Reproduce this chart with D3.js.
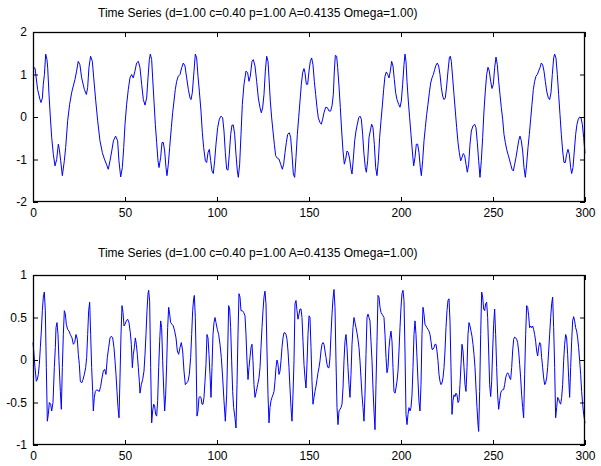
<!DOCTYPE html>
<html><head><meta charset="utf-8">
<script src="https://cdn.jsdelivr.net/npm/d3@7"></script>
<style>
body{margin:0;background:#fff;}
svg{display:block;font-family:"Liberation Sans",Arial,sans-serif;}
</style></head>
<body><svg id="c" width="601" height="466"></svg>
<script>
const titleText = "Time Series (d=1.00 c=0.40 p=1.00 A=0.4135 Omega=1.00)";
const xTicks = [0, 50, 100, 150, 200, 250, 300];
const topYTicks = [-2, -1, 0, 1, 2];
const botYTicks = [-1, -0.5, 0, 0.5, 1];

const topSeries = [
[0,1.17],[1.1,1.15],[2.5,0.65],[3.8,0.41],[4.35,0.34],[5.1,0.45],[5.6,0.77],[6.2,1.0],[6.9,1.48],[7.6,1.35],[8.0,1.15],[8.7,0.53],[9.4,0.02],[10.15,-0.48],[11.05,-0.88],[11.96,-1.15],[12.86,-1.0],[13.77,-0.64],[14.31,-0.76],[15.04,-1.03],[15.94,-1.38],[17.03,-1.03],[17.75,-0.72],[18.84,-0.09],[19.93,0.30],[21.0,0.57],[21.9,0.73],[22.8,0.88],[23.7,1.08],[24.6,1.31],[25.5,1.23],[26.45,0.92],[27.9,0.65],[29.0,0.53],[29.7,0.69],[30.4,1.16],[31.3,1.43],[32.25,1.31],[33.0,0.92],[34.1,0.38],[35.15,-0.09],[36.4,-0.56],[37.7,-0.84],[38.8,-0.99],[39.9,-1.11],[40.9,-1.23],[41.85,-1.03],[42.8,-0.80],[43.7,-0.56],[44.9,-0.45],[46.0,-0.56],[46.7,-1.03],[47.65,-1.41],[48.55,-1.19],[49.3,-0.72],[50.0,-0.17],[50.9,0.30],[51.8,0.65],[52.7,0.92],[53.6,1.0],[54.5,0.92],[55.4,1.08],[56.3,1.27],[57.25,1.31],
[58.15,1.16],[59.06,0.77],[59.96,0.41],[60.87,0.28],[61.77,0.45],[62.5,0.92],[63.22,1.35],[63.77,1.48],[64.49,1.35],[65.03,0.92],[65.76,0.375],[66.48,-0.17],[67.21,-0.6],[67.93,-1.03],[68.48,-1.19],[69.38,-0.95],[70.11,-0.6],[70.83,-0.6],[71.56,-0.8],[72.28,-1.19],[72.82,-1.38],[73.55,-1.11],[74.27,-0.72],[75.18,-0.25],[75.9,0.1],[76.63,0.375],[77.35,0.65],[78.08,0.84],[78.98,0.96],[79.89,1.0],[80.8,1.16],[81.7,1.27],[82.61,1.2],[83.51,0.92],[84.42,0.65],[85.32,0.45],[85.87,0.41],[86.59,0.57],[87.5,1.08],[88.22,1.48],[88.95,1.39],[89.67,0.96],[90.4,0.61],[91.3,0.14],[92.03,-0.37],[92.75,-0.72],[93.66,-1.03],[94.38,-1.07],[95.11,-0.84],[95.83,-0.76],[96.56,-1.03],[97.28,-1.27],[98.01,-1.33],[98.73,-1.03],[99.45,-0.64],[100.36,-0.25],[101.27,-0.05],[102.17,0.02],[103.08,-0.02],[103.8,-0.33],[104.53,-0.84],[105.25,-1.23],[105.98,-1.25],[106.7,-0.875],[107.43,-0.41],[108.15,-0.19],[108.87,-0.19],[109.6,-0.41],[110.32,-0.875],[111.05,-1.27],[111.59,-1.42],[112.32,-1.11],[113.04,-0.41],[113.77,0.3],[114.67,0.77],[115.76,1.08],[116.66,1.04],[117.39,0.84],[118.11,0.96],[119.02,1.31],[119.74,1.35],
[120.65,1.2],[121.56,0.84],[122.46,0.45],[123.37,0.22],[124.09,0.1],[124.82,0.22],[125.54,0.53],[126.27,1.08],[126.99,1.43],[127.72,1.31],[128.26,0.92],[128.98,0.375],[129.71,-0.02],[130.43,-0.33],[131.16,-0.64],[131.88,-0.91],[132.79,-0.97],[133.69,-0.99],[134.6,-1.11],[135.5,-1.23],[136.23,-1.11],[136.95,-0.84],[137.68,-0.6],[138.4,-0.41],[139.31,-0.37],[140.03,-0.48],[140.76,-0.875],[141.48,-1.34],[142.21,-1.42],[142.93,-0.95],[143.66,-0.41],[144.38,-0.02],[145.11,0.375],[145.83,0.77],[146.56,1.04],[147.28,1.14],[147.82,1.04],[148.55,0.77],[149.27,0.77],[150.0,1.08],[150.72,1.31],[151.45,1.39],[152.17,1.23],[152.9,0.84],[153.62,0.53],[154.35,0.22],[155.07,-0.02],[155.98,-0.13],[156.7,-0.17],[157.43,-0.05],[158.15,0.1],[159.06,0.23],[159.96,0.22],[160.87,0.14],[161.77,0.14],[162.5,0.26],[163.22,0.53],[163.77,1.08],[164.31,1.45],[165.03,1.43],[165.58,1.16],[166.3,0.73],[167.03,0.22],[167.75,-0.33],[168.48,-0.8],[169.2,-1.11],[169.93,-0.99],[170.65,-0.8],[171.38,-0.84],[172.1,-0.99],[172.82,-1.23],[173.37,-1.34],[174.09,-0.99],[174.82,-0.56],[175.54,-0.33],[176.27,-0.17],[176.99,-0.02],[177.72,0.02],[178.44,-0.05],[179.16,-0.41],[179.89,-0.875],[180.61,-1.19],[181.16,-1.3],[181.88,-1.03],[182.61,-0.48],
[184.06,-0.17],[184.78,-0.25],[185.5,-0.64],[186.23,-1.19],[186.95,-1.38],[187.68,-1.03],[188.4,-0.48],[189.13,-0.09],[189.85,0.26],[190.58,0.65],[191.3,0.96],[192.03,1.06],[192.75,1.0],[193.48,0.92],[194.2,1.08],[194.93,1.31],[195.65,1.2],[196.37,0.88],[197.1,0.57],[197.82,0.41],[198.73,0.3],[199.45,0.23],[200.18,0.375],[200.9,0.77],[201.63,1.23],[202.17,1.48],[202.72,1.31],[203.26,0.84],[203.98,0.375],[204.71,-0.02],[205.43,-0.41],[206.16,-0.8],[206.88,-1.15],[207.61,-0.95],[208.33,-0.64],[209.06,-0.64],[209.78,-0.84],[210.5,-1.19],[211.05,-1.38],[211.77,-1.03],[212.5,-0.56],[213.22,-0.25],[213.95,0.06],[214.67,0.3],[215.4,0.57],[216.12,0.8],[216.85,0.92],[217.57,1.0],[218.3,1.12],[219.02,1.22],[219.74,1.27],[220.47,1.2],[221.19,1.0],[221.92,0.69],[222.64,0.49],[223.37,0.41],[224.09,0.45],[224.82,0.73],[225.54,1.08],[226.27,1.39],[226.81,1.43],[227.35,1.31],[228.08,0.92],[228.8,0.53],[229.53,0.14],[230.25,-0.25],[230.98,-0.6],[231.7,-0.84],[232.43,-1.03],[233.15,-0.95],[233.87,-0.86],[234.6,-0.91],[235.32,-1.11],[236.05,-1.3],[236.77,-1.11],[237.5,-0.64],[238.22,-0.33],[239.13,-0.21],[240.03,-0.17],[240.76,-0.25],[241.48,-0.6],[242.21,-1.03],
[242.93,-1.42],[243.65,-1.03],[244.38,-0.48],[245.1,0.14],[245.83,0.61],[246.55,1.0],[247.28,1.17],[248.0,1.08],[248.73,0.84],[249.45,0.67],[250.18,0.77],[250.9,1.16],[251.63,1.41],[252.35,1.23],[253.08,0.84],[253.8,0.53],[254.52,0.22],[255.25,-0.05],[255.97,-0.41],[256.7,-0.6],[257.42,-0.76],[258.15,-0.875],[258.87,-0.99],[259.6,-1.11],[260.32,-1.23],[261.05,-1.27],[261.77,-1.11],[262.5,-0.95],[263.22,-0.76],[263.94,-0.56],[264.67,-0.45],[265.39,-0.56],[266.12,-0.8],[266.84,-1.19],[267.57,-1.42],[268.29,-1.11],[269.02,-0.72],[269.74,-0.41],[270.47,-0.05],[271.19,0.3],[271.92,0.65],[272.64,0.84],[273.36,0.96],[274.09,1.0],[274.81,1.08],[275.54,1.16],[276.26,1.27],[276.99,1.23],[277.71,1.08],[278.44,0.84],[279.16,0.61],[280.07,0.45],[280.79,0.41],[281.52,0.57],[282.24,1.0],[282.97,1.39],[283.51,1.48],[284.23,1.39],[284.96,1.0],[285.68,0.53],[286.41,0.06],[287.13,-0.41],[287.86,-0.8],[288.58,-1.07],[289.3,-1.07],[290.03,-0.875],[290.75,-0.76],[291.48,-0.875],[292.2,-1.19],[292.75,-1.33],[293.47,-1.19],[294.2,-0.8],[294.92,-0.41],[295.65,-0.17],[296.37,-0.05],[297.1,0.0],[297.82,-0.02],[298.54,-0.17],[299.27,-0.48],[300,-0.85]
];

const bottomSeries = [
[0,0.205],[0.54,0.067],[1.09,-0.09],[1.81,-0.25],[2.35,-0.23],[2.9,-0.17],[3.44,-0.05],[3.99,0.146],[4.53,0.34],[5.07,0.58],[5.62,0.74],[6.16,0.8],[6.7,0.58],[7.25,-0.09],[7.79,-0.72],[8.33,-0.64],[8.88,-0.5],[9.6,-0.52],[10.15,-0.6],[10.87,-0.5],[11.59,-0.09],[12.14,0.146],[12.5,0.38],[13.04,0.44],[13.59,0.3],[14.13,-0.01],[14.86,-0.37],[15.4,-0.58],[15.94,-0.09],[16.49,0.3],[17.03,0.58],[17.57,0.54],[18.12,0.42],[18.84,0.36],[19.57,0.34],[20.29,0.3],[21.2,0.26],[21.92,0.185],[22.65,0.205],[23.37,0.3],[24.09,0.244],[24.64,0.067],[25.18,-0.05],[25.72,-0.25],[26.45,-0.27],[27.17,-0.23],[27.9,-0.17],[28.62,-0.09],[29.17,0.03],[29.71,0.3],[30.25,0.58],[30.8,0.68],[31.34,0.3],[31.88,-0.09],[32.43,-0.37],[32.79,-0.6],[33.33,-0.44],[33.88,-0.37],[34.6,-0.35],[35.33,-0.36],[36.05,-0.37],[36.78,-0.31],[37.5,-0.21],[38.22,-0.13],[38.95,-0.11],[39.67,-0.17],[40.4,0.03],[41.12,0.146],[41.85,0.26],[42.57,0.28],[43.3,0.26],[44.02,0.146],[44.57,-0.01],[45.11,-0.17],[45.65,-0.37],[46.2,-0.56],[46.74,-0.68],[47.28,-0.21],[47.83,0.3],[48.37,0.64],[48.91,0.56],[49.46,0.4],[50.0,0.42],[50.72,0.46],[51.45,0.48],[52.17,0.44],[52.9,0.32],[53.44,0.185],[53.99,-0.09],[54.53,0.067],[55.07,0.146],[55.62,0.26],[56.16,0.185],[56.7,0.067],[57.25,-0.09],[57.79,-0.25],
[58.15,-0.39],[58.87,-0.29],[59.6,-0.23],[60.32,-0.13],[60.87,0.067],[61.41,0.3],[61.95,0.58],[62.5,0.78],[62.86,0.82],[63.4,0.69],[63.95,-0.09],[64.49,-0.74],[65.03,-0.6],[65.58,-0.52],[66.12,-0.54],[66.66,-0.64],[67.21,-0.66],[67.75,-0.48],[68.3,-0.09],[68.84,0.22],[69.38,0.46],[69.93,0.38],[70.47,-0.01],[71.01,-0.33],[71.56,-0.6],[72.1,-0.41],[72.64,-0.05],[73.19,0.38],[73.73,0.62],[74.27,0.54],[74.82,0.44],[75.54,0.42],[76.27,0.4],[76.99,0.34],[77.72,0.26],[78.44,0.106],[79.16,0.067],[79.89,0.146],[80.61,0.205],[81.34,0.106],[82.06,-0.13],[82.79,-0.29],[83.51,-0.27],[84.24,-0.25],[84.96,-0.17],[85.69,0.03],[86.23,0.3],[86.77,0.58],[87.32,0.72],[87.68,0.76],[88.22,0.5],[88.59,0.106],[89.13,-0.66],[89.67,-0.6],[90.22,-0.44],[90.76,-0.43],[91.3,-0.44],[91.85,-0.52],[92.39,-0.52],[92.93,-0.44],[93.48,-0.25],[94.02,-0.05],[94.56,0.3],[95.11,0.26],[95.65,0.067],[96.19,-0.17],[96.74,-0.44],[97.28,-0.09],[97.82,0.3],[98.37,0.44],[98.91,0.5],[99.45,0.44],[100.18,0.36],[100.9,0.3],[101.63,0.185],[102.35,0.03],[103.08,-0.21],[103.8,-0.48],[104.53,-0.72],[105.25,-0.41],[105.8,0.106],[106.34,0.64],[106.88,0.6],[107.43,0.38],[107.97,-0.01],[108.51,-0.37],[109.06,-0.56],[109.78,-0.68],[110.32,-0.8],[110.87,-0.29],[111.41,0.3],[111.95,0.78],[112.5,0.74],[113.04,0.58],[113.77,0.58],[114.49,0.56],[115.22,0.52],[115.76,0.3],[116.3,-0.01],[116.85,-0.23],[117.39,-0.09],[117.93,0.03],[118.48,0.146],[119.02,0.185],[119.56,-0.01],[120.1,-0.29],
[120.65,-0.44],[121.37,-0.37],[122.1,-0.29],[122.82,-0.21],[123.37,-0.09],[123.91,0.146],[124.45,0.38],[125.0,0.58],[125.54,0.74],[126.08,0.81],[126.63,0.66],[127.17,0.106],[127.72,-0.41],[128.26,-0.74],[128.8,-0.56],[129.35,-0.48],[129.89,-0.44],[130.43,-0.41],[130.98,-0.37],[131.52,-0.25],[132.06,-0.09],[132.61,0.0],[133.15,-0.05],[133.69,-0.17],[134.24,-0.13],[134.78,-0.01],[135.32,0.146],[135.87,0.26],[136.41,0.32],[136.95,0.32],[137.5,0.3],[138.04,0.244],[138.59,0.106],[139.13,-0.09],[139.67,-0.33],[140.22,-0.56],[140.76,-0.72],[141.3,-0.41],[141.85,-0.01],[142.39,0.66],[142.93,0.7],[143.48,0.58],[144.02,0.48],[144.56,0.54],[145.11,0.6],[145.65,0.6],[146.19,0.5],[146.74,0.22],[147.28,-0.05],[147.82,-0.21],[148.37,-0.33],[148.91,-0.05],[149.45,0.3],[150.0,0.52],[150.54,0.5],[151.09,0.146],[151.63,-0.25],[152.17,-0.52],[152.72,-0.44],[153.26,-0.37],[153.8,-0.31],[154.35,-0.23],[154.89,-0.15],[155.43,-0.09],[155.98,-0.01],[156.52,0.106],[157.06,0.185],[157.61,0.205],[158.15,0.185],[158.69,0.106],[159.24,0.03],[159.78,-0.05],[160.32,-0.09],[160.87,-0.09],[161.41,0.03],[161.95,0.3],[162.5,0.54],[163.04,0.72],[163.58,0.83],[164.13,0.62],[164.67,-0.01],[165.22,-0.56],[165.76,-0.76],[166.3,-0.6],[166.85,-0.58],[167.39,-0.56],[167.93,-0.52],[168.48,-0.33],[169.02,-0.01],[169.56,0.22],[170.11,0.3],[170.65,0.146],[171.19,-0.09],[171.74,-0.29],[172.28,-0.44],[172.82,-0.17],[173.37,0.185],[173.91,0.38],[174.45,0.5],[175.0,0.44],[175.54,0.38],[176.08,0.32],[176.63,0.244],[177.17,0.146],[177.71,-0.01],[178.26,-0.21],[178.8,-0.41],[179.35,-0.56],[179.89,-0.72],[180.43,-0.41],[180.98,0.067],[181.52,0.5],[182.06,0.54],[182.61,0.5],
[183.15,0.46],[183.69,0.22],[184.24,-0.01],[184.78,-0.33],[185.32,-0.6],[185.87,-0.82],[186.41,-0.29],[186.95,0.22],[187.5,0.76],[188.04,0.74],[188.58,0.62],[189.13,0.56],[189.67,0.54],[190.22,0.52],[190.76,0.5],[191.3,0.3],[191.85,0.03],[192.39,-0.15],[192.93,-0.09],[193.48,0.146],[194.02,0.26],[194.56,0.34],[195.11,0.22],[195.65,-0.09],[196.19,-0.37],[196.74,-0.39],[197.28,-0.33],[197.82,-0.25],[198.37,-0.13],[198.91,0.106],[199.45,0.38],[200.0,0.62],[200.54,0.78],[201.08,0.82],[201.63,0.7],[202.17,0.106],[202.72,-0.64],[203.26,-0.76],[203.8,-0.64],[204.35,-0.56],[204.89,-0.6],[205.43,-0.56],[205.98,-0.41],[206.52,-0.09],[207.06,0.3],[207.61,0.46],[208.15,0.3],[208.69,0.03],[209.24,-0.25],[209.78,-0.49],[210.32,-0.6],[210.87,-0.29],[211.41,0.3],[211.95,0.62],[212.5,0.54],[213.04,0.42],[213.58,0.4],[214.13,0.38],[214.67,0.36],[215.22,0.34],[215.76,0.3],[216.3,0.22],[216.85,0.126],[217.39,0.126],[217.93,0.146],[218.48,0.185],[219.02,0.185],[219.56,0.106],[220.11,-0.01],[220.65,-0.17],[221.19,-0.25],[221.74,-0.29],[222.28,-0.27],[222.82,-0.21],[223.37,-0.09],[223.91,0.106],[224.45,0.38],[225.0,0.58],[225.54,0.7],[226.08,0.72],[226.63,0.46],[227.17,-0.09],[227.71,-0.64],[228.26,-0.48],[228.8,-0.41],[229.35,-0.43],[229.89,-0.39],[230.43,-0.41],[230.98,-0.5],[231.52,-0.48],[232.06,-0.29],[232.61,-0.05],[233.15,0.185],[233.69,0.106],[234.24,-0.09],[234.78,-0.29],[235.32,-0.37],[235.87,-0.09],[236.41,0.3],[236.95,0.44],[237.5,0.4],[238.04,0.34],[238.58,0.28],[239.13,0.185],[239.67,0.067],[240.22,-0.09],[240.76,-0.33],[241.3,-0.56],[241.85,-0.76],[242.21,-0.84],
[242.75,-0.37],[243.3,0.3],[243.84,0.8],[244.38,0.74],[244.92,0.6],[245.47,0.58],[246.01,0.66],[246.55,0.68],[247.1,0.5],[247.64,0.106],[248.18,-0.29],[248.73,-0.43],[249.27,-0.25],[249.81,0.106],[250.36,0.42],[250.9,0.6],[251.44,0.3],[251.99,-0.09],[252.53,-0.41],[253.08,-0.58],[253.62,-0.48],[254.16,-0.39],[254.71,-0.36],[255.25,-0.35],[255.79,-0.35],[256.34,-0.29],[256.88,-0.21],[257.42,-0.17],[257.97,-0.15],[258.51,-0.17],[259.05,-0.21],[259.6,-0.23],[260.14,-0.09],[260.68,0.106],[261.23,0.244],[261.77,0.27],[262.31,0.26],[262.86,0.244],[263.4,0.205],[263.94,0.106],[264.49,-0.05],[265.03,-0.21],[265.58,-0.41],[266.12,-0.56],[266.66,-0.68],[267.21,-0.17],[267.75,0.3],[268.29,0.64],[268.84,0.62],[269.38,0.52],[269.92,0.38],[270.47,0.4],[271.01,0.38],[271.55,0.4],[272.1,0.36],[272.64,0.3],[273.18,0.22],[273.73,0.106],[274.27,0.047],[274.81,0.146],[275.36,0.205],[275.9,0.185],[276.44,0.03],[276.99,-0.09],[277.53,-0.21],[278.08,-0.29],[278.62,-0.27],[279.16,-0.21],[279.71,-0.09],[280.25,0.106],[280.79,0.3],[281.34,0.5],[281.88,0.66],[282.42,0.74],[282.97,0.38],[283.51,-0.09],[284.05,-0.68],[284.6,-0.56],[285.14,-0.44],[285.68,-0.46],[286.23,-0.5],[286.77,-0.52],[287.31,-0.44],[287.86,-0.29],[288.4,-0.01],[288.94,0.185],[289.49,0.3],[290.03,0.26],[290.57,0.067],[291.12,-0.21],[291.66,-0.44],[292.2,-0.09],[292.75,0.22],[293.29,0.46],[293.84,0.51],[294.38,0.46],[294.92,0.38],[295.47,0.34],[296.01,0.26],[296.55,0.146],[297.1,-0.01],[297.64,-0.17],[298.18,-0.37],[298.73,-0.52],[299.27,-0.64],[300,-0.74]
];

const svg = d3.select("#c");
const X0 = 33, X1 = 585;

function panel(cfg) {
  const x = d3.scaleLinear().domain([0, 300]).range([X0, X1]);
  const y = d3.scaleLinear().domain(cfg.yDomain).range([cfg.bottom, cfg.top]);
  const g = svg.append("g");

  g.append("text")
    .attr("x", 98).attr("y", cfg.titleY)
    .attr("font-size", 12).attr("fill", "#000")
    .text(titleText);

  const line = d3.line().x(d => x(d[0])).y(d => y(d[1]));
  g.append("path").datum(cfg.data)
    .attr("d", line).attr("fill", "none")
    .attr("stroke", "#0000ff").attr("stroke-width", 1);

  const fmt = d => String(d);
  const style = sel => {
    sel.select(".domain").remove();
    sel.selectAll(".tick line").attr("stroke", "#000");
    sel.selectAll(".tick text").attr("font-size", 12).attr("fill", "#000")
      .attr("font-family", '"Liberation Sans",Arial,sans-serif');
  };
  g.append("g").attr("transform", `translate(0,${cfg.bottom})`)
    .call(d3.axisBottom(x).tickValues(xTicks).tickFormat(fmt).tickSize(-5).tickPadding(6)).call(style);
  g.append("g").attr("transform", `translate(0,${cfg.top})`)
    .call(d3.axisTop(x).tickValues(xTicks).tickFormat("").tickSize(-5)).call(style);
  g.append("g").attr("transform", `translate(${X0},0)`)
    .call(d3.axisLeft(y).tickValues(cfg.yTicks).tickFormat(fmt).tickSize(-5).tickPadding(6)).call(style);
  g.append("g").attr("transform", `translate(${X1},0)`)
    .call(d3.axisRight(y).tickValues(cfg.yTicks).tickFormat("").tickSize(-5)).call(style);

  g.append("rect")
    .attr("x", X0 + 0.5).attr("y", cfg.top + 0.5)
    .attr("width", X1 - X0 - 1).attr("height", cfg.bottom - cfg.top - 1)
    .attr("fill", "none").attr("stroke", "#000").attr("stroke-width", 1.3);
}

panel({ data: topSeries, yDomain: [-2, 2], yTicks: topYTicks, top: 32, bottom: 202, titleY: 17 });
panel({ data: bottomSeries, yDomain: [-1, 1], yTicks: botYTicks, top: 275, bottom: 445, titleY: 257 });
</script></body></html>
